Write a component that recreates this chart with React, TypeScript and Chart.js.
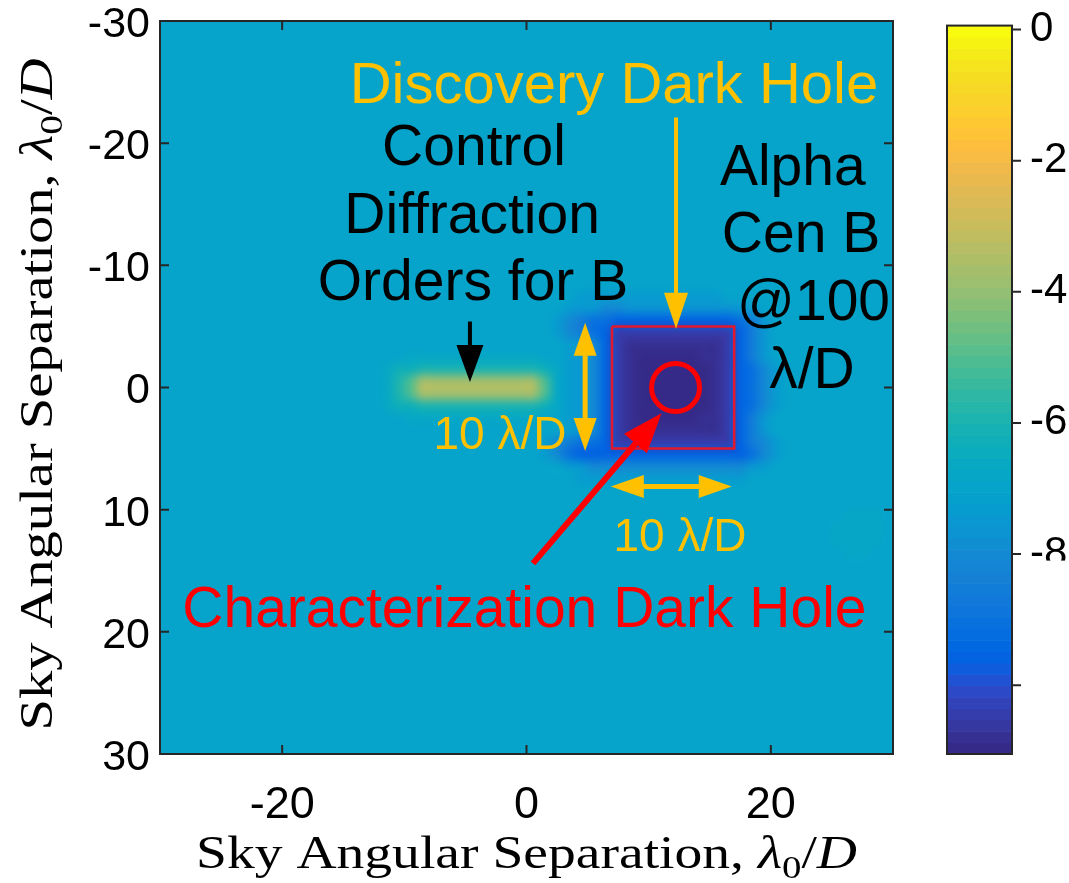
import React, { useEffect, useRef } from "react";
import { Chart, registerables } from "chart.js";

Chart.register(...registerables);

// ---------------- data ----------------
const AXIS_RANGE = [-30, 30];
const X_TICKS = [-20, 0, 20];
const Y_TICKS = [-30, -20, -10, 0, 10, 20, 30];
const CB_TICKS = [0, -2, -4, -6, -8, -10];
const CB_RANGE = [-11.05, 0.13];
const CLIM = [-11.05, 0.06];

// log10 contrast levels: lower case = step of 0.5, upper case = +0.25
const LEVEL_KEYS = "aAbBcCdDeEfFgGhHiIjJkKlLmMnNoOpPqQ";
const LEVEL_VALUES = [
  -11, -10.75, -10.5, -10.25, -10, -9.75, -9.5, -9.25, -9, -8.75, -8.5, -8.25, -8, -7.75, -7.5, -7.25,
  -7, -6.75, -6.5, -6.25, -6, -5.75, -5.5, -5.25, -5, -4.75, -4.5, -4.25, -4, -3.75, -3.5, -3.25, -3, -2.75,
];

// one letter per 1 λ/D cell; rows from y = -30 (top) to y = 30, columns x = -30 .. 30 in groups of 10
const CONTRAST_ROWS = [
  "iiiiiiiiii iiiiiiiiii iiiiiiiiii iiiiiiiiii iiiiiiiiii iiiiiiiiii",
  "iiiiiiiiii iiiiiiiiii iiiiiiiiii iiiiiiiiii iiiiiiiiii iiiiiiiiii",
  "iiiiiiiiii iiiiiiiiii iiiiiiiiii iiiiiiiiii iiiiiiiiii iiiiiiiiii",
  "iiiiiiiiii iiiiiiiiii iiiiiiiiii iiiiiiiiii iiiiiiiiii iiiiiiiiii",
  "iiiiiiiiii iiiiiiiiii iiiiiiiiii iiiiiiiiii iiiiiiiiii iiiiiiiiii",
  "iiiiiiiiii iiiiiiiiii iiiiiiiiii iiiiiiiiii iiiiiiiiii iiiiiiiiii",
  "iiiiiiiiii iiiiiiiiii iiiiiiiiii iiiiiiiiii iiiiiiiiii iiiiiiiiii",
  "iiiiiiiiii iiiiiiiiii iiiiiiiiii iiiiiiiiii iiiiiiiiii iiiiiiiiii",
  "iiiiiiiiii iiiiiiiiii iiiiiiiiii iiiiiiiiii iiiiiiiiii iiiiiiiiii",
  "iiiiiiiiii iiiiiiiiii iiiiiiiiii iiiiiiiiii iiiiiiiiii iiiiiiiiii",
  "iiiiiiiiii iiiiiiiiii iiiiiiiiii iiiiiiiiii iiiiiiiiii iiiiiiiiii",
  "iiiiiiiiii iiiiiiiiii iiiiiiiiii iiiiiiiiii iiiiiiiiii iiiiiiiiii",
  "iiiiiiiiii iiiiiiiiii iiiiiiiiii iiiiiiiiii iiiiiiiiii iiiiiiiiii",
  "iiiiiiiiii iiiiiiiiii iiiiiiiiii iiiiiiiiii iiiiiiiiii iiiiiiiiii",
  "iiiiiiiiii iiiiiiiiii iiiiiiiiii iiiiiiiiii iiiiiiiiii iiiiiiiiii",
  "iiiiiiiiii iiiiiiiiii iiiiiiiiii iiiiiiiiii iiiiiiiiii iiiiiiiiii",
  "iiiiiiiiii iiiiiiiiii iiiiiiiiii iiiiiiiiii iiiiiiiiii iiiiiiiiii",
  "iiiiiiiiii iiiiiiiiii iiiiiiiiii iiiiiiiiii iiiiiiiiii iiiiiiiiii",
  "iiiiiiiiii iiiiiiiiii iiiiiiiiii iiiiiiiiii iiiiiiiiii iiiiiiiiii",
  "iiiiiiiiii iiiiiiiiii iiiiiiiiii iiiiiiiiii iiiiiiiiii iiiiiiiiii",
  "iiiiiiiiii iiiiiiiiii iiiiiiiiii iiiiiiiiii iiiiiiiiii iiiiiiiiii",
  "iiiiiiiiii iiiiiiiiii iiiiiiiiii iiiiiiiiii iiiiiiiiii iiiiiiiiii",
  "iiiiiiiiii iiiiiiiiii iiiiiiiiii iiiiHHHHHH HHHHHHiiii iiiiiiiiii",
  "iiiiiiiiii iiiiiiiiii iiiiiiiiii iiiHhhggGG GGGGGGGhHi iiiiiiiiii",
  "iiiiiiiiii iiiiiiiiii iiiiiiiiii iiHgfeeddd dddddddefh iiiiiiiiii",
  "iiiiiiiiii iiiiiiiiii iiiiiiiiii iiHgfedbbb bbbbbbbdfh iiiiiiiiii",
  "iiiiiiiiii iiiiiiiiii iiiiiiiiii iiiHhgdbAA AAAAAAbdfh iiiiiiiiii",
  "iiiiiiiiii iiiiiiiiii IIIIIIIIII IiiHhgdbAa aaaaAAbdfh iiiiiiiiii",
  "iiiiiiiiii iiiiiiiiIJ Jkkkkkkkkk kJIHhgdbAa aaaaaAbdeg Hiiiiiiiii",
  "iiiiiiiiii iiiiiiiiIk mOOOOOOOOO OmIHhgdbAa aaaaaAbdeg Hiiiiiiiii",
  "iiiiiiiiii iiiiiiiiIk mOOOOOOOOO OmIHhgdbAa aaaaaAbdeg Hiiiiiiiii",
  "iiiiiiiiii iiiiiiiiIJ Jkkkkkkkkk kJIHhgdbAa aaaaaAbdeg Hiiiiiiiii",
  "iiiiiiiiii iiiiiiiiii IIIIIIIIII IiiHhgdbAa aaaaAAbdfh iiiiiiiiii",
  "iiiiiiiiii iiiiiiiiii iiiiiiiiii iiiHhgdbAA AAAAAAbdfh iiiiiiiiii",
  "iiiiiiiiii iiiiiiiiii iiiiiiiiii iHgfeedbbb bbbbbbbdfg Hiiiiiiiii",
  "iiiiiiiiii iiiiiiiiii iiiiiiiiii iHgedddddd ddddddddeg Hiiiiiiiii",
  "iiiiiiiiii iiiiiiiiii iiiiiiiiii iiiHhggggg gggggggghH iiiiiiiiii",
  "iiiiiiiiii iiiiiiiiii iiiiiiiiii iiiiHHHHHH HHHHHHHHii iiiiiiiiii",
  "iiiiiiiiii iiiiiiiiii iiiiiiiiii iiiiiiiiii iiiiiiiiii iiiiiiiiii",
  "iiiiiiiiii iiiiiiiiii iiiiiiiiii iiiiiiiiii iiiiiiiiii iiiiiiiiii",
  "iiiiiiiiii iiiiiiiiii iiiiiiiiii iiiiiiiiii iiiiiiiiii iiiiiiIIIi",
  "iiiiiiiiii iiiiiiiiii iiiiiiiiii iiiiiiiiii iiiiiiiiii iiiiiIIIIi",
  "iiiiiiiiii iiiiiiiiii iiiiiiiiii iiiiiiiiii iiiiiiiiii iiiiiIIIIi",
  "iiiiiiiiii iiiiiiiiii iiiiiiiiii iiiiiiiiii iiiiiiiiii iiiiiiIIii",
  "iiiiiiiiii iiiiiiiiii iiiiiiiiii iiiiiiiiii iiiiiiiiii iiiiiiiiii",
  "iiiiiiiiii iiiiiiiiii iiiiiiiiii iiiiiiiiii iiiiiiiiii iiiiiiiiii",
  "iiiiiiiiii iiiiiiiiii iiiiiiiiii iiiiiiiiii iiiiiiiiii iiiiiiiiii",
  "iiiiiiiiii iiiiiiiiii iiiiiiiiii iiiiiiiiii iiiiiiiiii iiiiiiiiii",
  "iiiiiiiiii iiiiiiiiii iiiiiiiiii iiiiiiiiii iiiiiiiiii iiiiiiiiii",
  "iiiiiiiiii iiiiiiiiii iiiiiiiiii iiiiiiiiii iiiiiiiiii iiiiiiiiii",
  "iiiiiiiiii iiiiiiiiii iiiiiiiiii iiiiiiiiii iiiiiiiiii iiiiiiiiii",
  "iiiiiiiiii iiiiiiiiii iiiiiiiiii iiiiiiiiii iiiiiiiiii iiiiiiiiii",
  "iiiiiiiiii iiiiiiiiii iiiiiiiiii iiiiiiiiii iiiiiiiiii iiiiiiiiii",
  "iiiiiiiiii iiiiiiiiii iiiiiiiiii iiiiiiiiii iiiiiiiiii iiiiiiiiii",
  "iiiiiiiiii iiiiiiiiii iiiiiiiiii iiiiiiiiii iiiiiiiiii iiiiiiiiii",
  "iiiiiiiiii iiiiiiiiii iiiiiiiiii iiiiiiiiii iiiiiiiiii iiiiiiiiii",
  "iiiiiiiiii iiiiiiiiii iiiiiiiiii iiiiiiiiii iiiiiiiiii iiiiiiiiii",
  "iiiiiiiiii iiiiiiiiii iiiiiiiiii iiiiiiiiii iiiiiiiiii iiiiiiiiii",
  "iiiiiiiiii iiiiiiiiii iiiiiiiiii iiiiiiiiii iiiiiiiiii iiiiiiiiii",
  "iiiiiiiiii iiiiiiiiii iiiiiiiiii iiiiiiiiii iiiiiiiiii iiiiiiiiii",
];

// Discovery dark hole box and characterization dark hole centre (λ/D)
const BOX_X = [7, 17, 17, 7, 7];
const BOX_Y = [-5, -5, 5, 5, -5];
const CHAR_X = [12.2];
const CHAR_Y = [0];

// ---------------- styles / annotations ----------------
const PARULA = [
  [0.2081, 0.1663, 0.5292], [0.2116, 0.1898, 0.5777], [0.2123, 0.2138, 0.627], [0.2081, 0.2386, 0.6771],
  [0.1959, 0.2645, 0.7279], [0.1707, 0.2919, 0.7792], [0.1253, 0.3242, 0.8303], [0.0591, 0.3598, 0.8683],
  [0.0117, 0.3875, 0.882], [0.006, 0.4086, 0.8828], [0.0165, 0.4266, 0.8786], [0.0329, 0.443, 0.872],
  [0.0498, 0.4586, 0.8641], [0.0629, 0.4737, 0.8554], [0.0723, 0.4887, 0.8467], [0.0779, 0.504, 0.8384],
  [0.0793, 0.52, 0.8312], [0.0749, 0.5375, 0.8263], [0.0641, 0.557, 0.824], [0.0488, 0.5772, 0.8228],
  [0.0343, 0.5966, 0.8199], [0.0265, 0.6137, 0.8135], [0.0239, 0.6287, 0.8038], [0.0231, 0.6418, 0.7913],
  [0.0228, 0.6535, 0.7768], [0.0267, 0.6642, 0.7607], [0.0384, 0.6743, 0.7436], [0.059, 0.6838, 0.7254],
  [0.0843, 0.6928, 0.7062], [0.1133, 0.7015, 0.6859], [0.1453, 0.7098, 0.6646], [0.1801, 0.7177, 0.6424],
  [0.2178, 0.725, 0.6193], [0.2586, 0.7317, 0.5954], [0.3022, 0.7376, 0.5712], [0.3482, 0.7424, 0.5473],
  [0.3953, 0.7459, 0.5244], [0.442, 0.7481, 0.5033], [0.4871, 0.7491, 0.484], [0.53, 0.7491, 0.4661],
  [0.5709, 0.7485, 0.4494], [0.6099, 0.7473, 0.4337], [0.6473, 0.7456, 0.4188], [0.6834, 0.7435, 0.4044],
  [0.7184, 0.7411, 0.3905], [0.7525, 0.7384, 0.3768], [0.7858, 0.7356, 0.3633], [0.8185, 0.7327, 0.3498],
  [0.8507, 0.7299, 0.336], [0.8824, 0.7274, 0.3217], [0.9139, 0.7258, 0.3063], [0.945, 0.7261, 0.2886],
  [0.9739, 0.7314, 0.2666], [0.9938, 0.7455, 0.2403], [0.999, 0.7653, 0.2164], [0.9955, 0.7861, 0.1967],
  [0.988, 0.8066, 0.1794], [0.9789, 0.8271, 0.1633], [0.9697, 0.8481, 0.1475], [0.9626, 0.8705, 0.1309],
  [0.9589, 0.8949, 0.1132], [0.9598, 0.9218, 0.0948], [0.9661, 0.9514, 0.0755], [0.9763, 0.9831, 0.0538],
];

const ORANGE = "#FFC000";
const RED = "#FF0000";
const BOX_RED = "#E3182D";
const AXIS_COLOR = "#262626";
const SANS = '"Liberation Sans", Arial, sans-serif';
const SERIF = '"Liberation Serif", "Times New Roman", serif';

const ARROWS = [
  { from: [12.24, -22.1], to: [12.24, -4.8], color: ORANGE, width: 4, head: 36, headW: 24, both: false },
  { from: [-4.63, -5.4], to: [-4.63, -0.45], color: "#000000", width: 4, head: 37, headW: 27, both: false },
  { from: [4.8, -5.3], to: [4.8, 5.2], color: ORANGE, width: 5, head: 33, headW: 23, both: true },
  { from: [6.9, 8.1], to: [16.8, 8.1], color: ORANGE, width: 5, head: 33, headW: 23, both: true },
  { from: [0.53, 14.4], to: [11.05, 2.1], color: RED, width: 6, head: 40, headW: 30, both: false },
];

const LABELS = [
  { text: "Discovery Dark Hole", x: 7.16, y: -23.3, color: ORANGE, size: 58 },
  { text: "Control", x: -4.3, y: -18.2, color: "#000000", size: 57 },
  { text: "Diffraction", x: -4.45, y: -12.65, color: "#000000", size: 57 },
  { text: "Orders for B", x: -4.38, y: -7.15, color: "#000000", size: 57 },
  { text: "Alpha", x: 21.8, y: -16.6, color: "#000000", size: 57 },
  { text: "Cen B", x: 22.47, y: -11.1, color: "#000000", size: 57 },
  { text: "@100", x: 23.5, y: -5.55, color: "#000000", size: 57 },
  { text: "λ/D", x: 23.37, y: 0.05, color: "#000000", size: 57 },
  { text: "10 λ/D", x: -2.17, y: 5.03, color: ORANGE, size: 46 },
  { text: "10 λ/D", x: 12.56, y: 13.38, color: ORANGE, size: 46 },
  { text: "Characterization Dark Hole", x: -0.17, y: 19.6, color: RED, size: 57 },
];

const TITLE_PARTS = [
  { t: "Sky Angular Separation, ", style: "", scale: 1, dy: 0 },
  { t: "λ", style: "italic ", scale: 1, dy: 0 },
  { t: "0", style: "", scale: 0.7, dy: 0.22 },
  { t: "/", style: "", scale: 1, dy: 0 },
  { t: "D", style: "italic ", scale: 1, dy: 0 },
];

function colorFor(v: number): [number, number, number] {
  let t = (v - CLIM[0]) / (CLIM[1] - CLIM[0]);
  t = Math.max(0, Math.min(1, t));
  const i = Math.min(PARULA.length - 1, Math.floor(t * PARULA.length));
  const c = PARULA[i];
  return [Math.round(c[0] * 255), Math.round(c[1] * 255), Math.round(c[2] * 255)];
}

function parseGrid(): number[][] {
  const rows = CONTRAST_ROWS.map((r) => r.replace(/\s+/g, ""));
  const nC = Math.max(...rows.map((r) => r.length));
  return rows.map((s) => {
    const out: number[] = [];
    for (let c = 0; c < nC; c++) {
      const ch = s[Math.min(c, s.length - 1)];
      const k = LEVEL_KEYS.indexOf(ch);
      out.push(LEVEL_VALUES[k < 0 ? 16 : k]);
    }
    return out;
  });
}

function drawArrow(ctx: CanvasRenderingContext2D, x1: number, y1: number, x2: number, y2: number, a: any) {
  const dx = x2 - x1, dy = y2 - y1;
  const len = Math.hypot(dx, dy);
  const ux = dx / len, uy = dy / len;
  const sx = a.both ? x1 + ux * a.head * 0.9 : x1;
  const sy = a.both ? y1 + uy * a.head * 0.9 : y1;
  const ex = x2 - ux * a.head * 0.9, ey = y2 - uy * a.head * 0.9;
  ctx.save();
  ctx.strokeStyle = a.color;
  ctx.fillStyle = a.color;
  ctx.lineWidth = a.width;
  ctx.lineCap = "butt";
  ctx.beginPath();
  ctx.moveTo(sx, sy);
  ctx.lineTo(ex, ey);
  ctx.stroke();
  const head = (tx: number, ty: number, dirx: number, diry: number) => {
    const bx = tx - dirx * a.head, by = ty - diry * a.head;
    ctx.beginPath();
    ctx.moveTo(tx, ty);
    ctx.lineTo(bx - diry * a.headW / 2, by + dirx * a.headW / 2);
    ctx.lineTo(bx + diry * a.headW / 2, by - dirx * a.headW / 2);
    ctx.closePath();
    ctx.fill();
  };
  head(x2, y2, ux, uy);
  if (a.both) head(x1, y1, -ux, -uy);
  ctx.restore();
}

function drawTitle(ctx: CanvasRenderingContext2D, cx: number, cy: number, rotate: boolean, targetWidth: number) {
  const size = 46;
  let total = 0;
  const widths = TITLE_PARTS.map((p) => {
    ctx.font = `${p.style}${size * p.scale}px ${SERIF}`;
    const w = ctx.measureText(p.t).width;
    total += w;
    return w;
  });
  const sx = targetWidth / total;
  ctx.save();
  ctx.translate(cx, cy);
  if (rotate) ctx.rotate(-Math.PI / 2);
  ctx.scale(sx, 1);
  ctx.fillStyle = "#000000";
  ctx.textAlign = "left";
  ctx.textBaseline = "alphabetic";
  let x = -total / 2;
  TITLE_PARTS.forEach((p, i) => {
    ctx.font = `${p.style}${size * p.scale}px ${SERIF}`;
    ctx.fillText(p.t, x, p.dy * size);
    x += widths[i];
  });
  ctx.restore();
}

const GRID = parseGrid();

const heatmapPlugin = {
  id: "heatmap",
  beforeDatasetsDraw(chart: any) {
    const { ctx, scales } = chart;
    const xs = scales.x, ys = scales.y;
    const nR = GRID.length, nC = GRID[0].length;
    const off = document.createElement("canvas");
    off.width = nC;
    off.height = nR;
    const octx = off.getContext("2d")!;
    const img = octx.createImageData(nC, nR);
    for (let r = 0; r < nR; r++) {
      for (let c = 0; c < nC; c++) {
        const [R, G, B] = colorFor(GRID[r][c]);
        const k = (r * nC + c) * 4;
        img.data[k] = R;
        img.data[k + 1] = G;
        img.data[k + 2] = B;
        img.data[k + 3] = 255;
      }
    }
    octx.putImageData(img, 0, 0);
    const left = xs.getPixelForValue(AXIS_RANGE[0]);
    const right = xs.getPixelForValue(AXIS_RANGE[1]);
    const top = ys.getPixelForValue(AXIS_RANGE[0]);
    const bottom = ys.getPixelForValue(AXIS_RANGE[1]);
    ctx.save();
    ctx.imageSmoothingEnabled = true;
    ctx.imageSmoothingQuality = "high";
    ctx.drawImage(off, left, top, right - left, bottom - top);
    ctx.restore();
  },
};

const annotationPlugin = {
  id: "annotations",
  afterDatasetsDraw(chart: any) {
    const { ctx, scales } = chart;
    const xs = scales.x, ys = scales.y;
    ARROWS.forEach((a) => {
      drawArrow(ctx, xs.getPixelForValue(a.from[0]), ys.getPixelForValue(a.from[1]), xs.getPixelForValue(a.to[0]), ys.getPixelForValue(a.to[1]), a);
    });
    ctx.save();
    ctx.textAlign = "center";
    ctx.textBaseline = "alphabetic";
    LABELS.forEach((l) => {
      ctx.font = `${l.size}px ${SANS}`;
      ctx.fillStyle = l.color;
      ctx.fillText(l.text, xs.getPixelForValue(l.x), ys.getPixelForValue(l.y));
    });
    ctx.restore();
  },
};

const framePlugin = {
  id: "frame",
  afterDraw(chart: any) {
    const { ctx, chartArea, scales } = chart;
    const { left, right, top, bottom } = chartArea;
    const xs = scales.x, ys = scales.y, cb = scales.cb;
    const tick = 9;
    ctx.save();
    ctx.strokeStyle = AXIS_COLOR;
    ctx.lineWidth = 2;
    ctx.strokeRect(left, top, right - left, bottom - top);
    ctx.beginPath();
    X_TICKS.forEach((v) => {
      const x = xs.getPixelForValue(v);
      ctx.moveTo(x, bottom);
      ctx.lineTo(x, bottom - tick);
      ctx.moveTo(x, top);
      ctx.lineTo(x, top + tick);
    });
    Y_TICKS.forEach((v) => {
      const y = ys.getPixelForValue(v);
      ctx.moveTo(left, y);
      ctx.lineTo(left + tick, y);
      ctx.moveTo(right, y);
      ctx.lineTo(right - tick, y);
    });
    ctx.stroke();

    // colorbar
    const cbLeft = right + 54;
    const cbWidth = 65;
    const n = PARULA.length;
    const step = (CLIM[1] - CLIM[0]) / n;
    for (let i = 0; i < n; i++) {
      const v0 = CLIM[0] + i * step;
      const y0 = cb.getPixelForValue(v0);
      const y1 = cb.getPixelForValue(v0 + step);
      const c = PARULA[i];
      ctx.fillStyle = `rgb(${Math.round(c[0] * 255)},${Math.round(c[1] * 255)},${Math.round(c[2] * 255)})`;
      ctx.fillRect(cbLeft, y1, cbWidth, y0 - y1 + 0.6);
    }
    const cTop = cb.getPixelForValue(CLIM[1]);
    const cBot = cb.getPixelForValue(CLIM[0]);
    ctx.strokeRect(cbLeft, cTop, cbWidth, cBot - cTop);
    ctx.beginPath();
    CB_TICKS.forEach((v) => {
      const y = cb.getPixelForValue(v);
      ctx.moveTo(cbLeft + cbWidth, y);
      ctx.lineTo(cbLeft + cbWidth + tick, y);
    });
    ctx.stroke();
    // neighbouring (cropped) panel covers the lower colorbar labels
    ctx.fillStyle = "#ffffff";
    ctx.fillRect(cbLeft + cbWidth + tick + 1, cb.getPixelForValue(-8.1), 200, 400);
    ctx.restore();

    drawTitle(ctx, (left + right) / 2, 868, false, 661);
    drawTitle(ctx, 52, (top + bottom) / 2 + 7, true, 672);
  },
};

export default function App() {
  const ref = useRef<HTMLCanvasElement>(null);
  useEffect(() => {
    const canvas = ref.current!;
    const tickFont = (size: number) => ({ family: SANS, size });
    const chart = new Chart(canvas, {
      type: "scatter",
      data: {
        datasets: [
          {
            label: "Discovery dark hole",
            data: BOX_X.map((x, i) => ({ x, y: BOX_Y[i] })),
            showLine: true,
            borderColor: BOX_RED,
            borderWidth: 2.5,
            pointRadius: 0,
            fill: false,
          } as any,
          {
            label: "Characterization dark hole",
            data: CHAR_X.map((x, i) => ({ x, y: CHAR_Y[i] })),
            pointRadius: 24,
            pointStyle: "circle",
            borderColor: RED,
            borderWidth: 5,
            backgroundColor: "rgba(0,0,0,0)",
          } as any,
        ],
      },
      options: {
        responsive: false,
        animation: false,
        devicePixelRatio: 1,
        layout: { autoPadding: false, padding: { top: 21, left: 0, right: 0, bottom: 0 } },
        plugins: { legend: { display: false }, tooltip: { enabled: false } },
        scales: {
          x: {
            type: "linear",
            position: "bottom",
            min: AXIS_RANGE[0],
            max: AXIS_RANGE[1],
            grid: { display: false, drawTicks: false },
            border: { display: false },
            ticks: { font: tickFont(45), color: "#000000", padding: 25, maxRotation: 0 },
            afterBuildTicks: (s: any) => { s.ticks = X_TICKS.map((value) => ({ value })); },
            afterFit: (s: any) => { s.height = 129; s.paddingLeft = 0; s.paddingRight = 0; },
          },
          y: {
            type: "linear",
            position: "left",
            reverse: true,
            min: AXIS_RANGE[0],
            max: AXIS_RANGE[1],
            grid: { display: false, drawTicks: false },
            border: { display: false },
            ticks: { font: tickFont(43), color: "#000000", padding: 10, labelOffset: 4 },
            afterBuildTicks: (s: any) => { s.ticks = Y_TICKS.map((value) => ({ value })); },
            afterFit: (s: any) => { s.width = 160; s.paddingTop = 0; s.paddingBottom = 0; },
          },
          cb: {
            type: "linear",
            position: "right",
            min: CB_RANGE[0],
            max: CB_RANGE[1],
            grid: { display: false, drawTicks: false },
            border: { display: false },
            ticks: { font: tickFont(42), color: "#000000", padding: 137 },
            afterBuildTicks: (s: any) => { s.ticks = CB_TICKS.map((value) => ({ value })); },
            afterFit: (s: any) => { s.width = 176; s.paddingTop = 0; s.paddingBottom = 0; },
          },
        },
      } as any,
      plugins: [heatmapPlugin, annotationPlugin, framePlugin],
    });
    return () => chart.destroy();
  }, []);
  return (
    <div style={{ position: "fixed", left: 0, top: 0, width: 1069, height: 883, background: "#ffffff" }}>
      <canvas ref={ref} width={1069} height={883} style={{ display: "block" }} />
    </div>
  );
}
